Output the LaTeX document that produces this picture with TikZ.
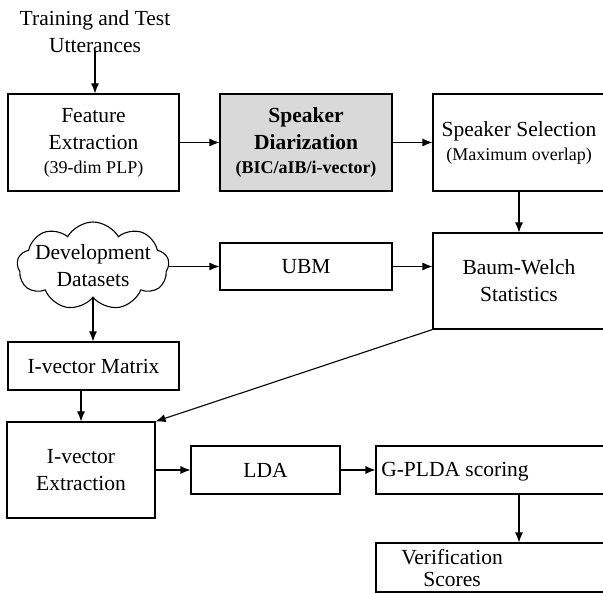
\documentclass[tikz,border=0pt]{standalone}
\usepackage{fontspec}
\setmainfont{Liberation Serif}
\usetikzlibrary{arrows.meta,shapes.symbols,calc}
\newcommand{\sm}{\fontsize{18}{22}\selectfont}
\tikzset{
  base/.style={font=\fontsize{21.5}{27}\selectfont, align=center, inner sep=0pt},
  box/.style={base, draw, line width=1.1pt, rectangle},
  arr/.style={-{Latex[length=10pt,width=8pt]}, line width=1.1pt}
}
\begin{document}
\begin{tikzpicture}[x=1pt,y=-1pt]
\useasboundingbox (0,0) rectangle (603,593);
\node[base] (title) at (95,32) {Training and Test\\Utterances};
\node[box, minimum width=171pt, minimum height=97pt] (feat) at (93.5,142.5) {Feature\\Extraction\\[-3pt]{\sm (39-dim PLP)}};
\node[box, fill={rgb,255:red,217;green,217;blue,217}, minimum width=172pt, minimum height=97pt] (diar) at (306,142.5) {\bfseries Speaker\\\bfseries Diarization\\[-3pt]{\sm\bfseries (BIC/aIB/i-vector)}};
\node[box, minimum width=172pt, minimum height=97pt] (sel) at (519,142.5) {Speaker Selection\\[-3pt]{\sm (Maximum overlap)}};
\node[base, draw, cloud, cloud puffs=9, cloud puff arc=120, cloud ignores aspect, inner xsep=-14pt, inner ysep=-5pt, minimum width=152pt, minimum height=88pt, line width=1.1pt] (cloud) at (93,266) {Development\\Datasets};
\node[box, minimum width=172pt, minimum height=47pt] (ubm) at (306,266.5) {UBM};
\node[box, minimum width=172pt, minimum height=96pt] (bw) at (519,281) {Baum-Welch\\Statistics};
\node[box, minimum width=171pt, minimum height=48pt] (mat) at (93.5,366) {I-vector Matrix};
\node[box, minimum width=148pt, minimum height=96pt] (ivx) at (81,470) {I-vector\\Extraction};
\node[box, minimum width=149pt, minimum height=48pt] (lda) at (265.5,470) {LDA};
\node[box, minimum width=229pt, minimum height=48pt, label={[base, xshift=-35.5pt, yshift=-2pt]center:G-PLDA scoring}] (gplda) at (490.5,470) {};
\node[box, minimum width=229pt, minimum height=49pt, label={[base, font=\fontsize{21.5}{22}\selectfont, xshift=-38.5pt, yshift=-1pt]center:Verification\\Scores}] (ver) at (490.5,567.5) {};
\draw[arr] (title.south) ++(0,-2) coordinate (t0) -- (t0 |- feat.north);
\draw[arr] (feat) -- (diar);
\draw[arr] (diar) -- (sel);
\draw[arr] (sel) -- (bw);
\draw[arr] (cloud.east |- ubm) -- (ubm.west);
\draw[arr] (ubm.east) -- (ubm.east -| bw.west);
\draw[arr] (cloud.south) -- (cloud.south |- mat.north);
\draw[arr] (mat.south -| ivx) -- (ivx.north);
\draw[arr] (bw.south west) -- (ivx.north east);
\draw[arr] (ivx) -- (lda);
\draw[arr] (lda) -- (gplda.west);
\draw[arr] (gplda.south -| sel) -- (ver.north -| sel);
\end{tikzpicture}
\end{document}
